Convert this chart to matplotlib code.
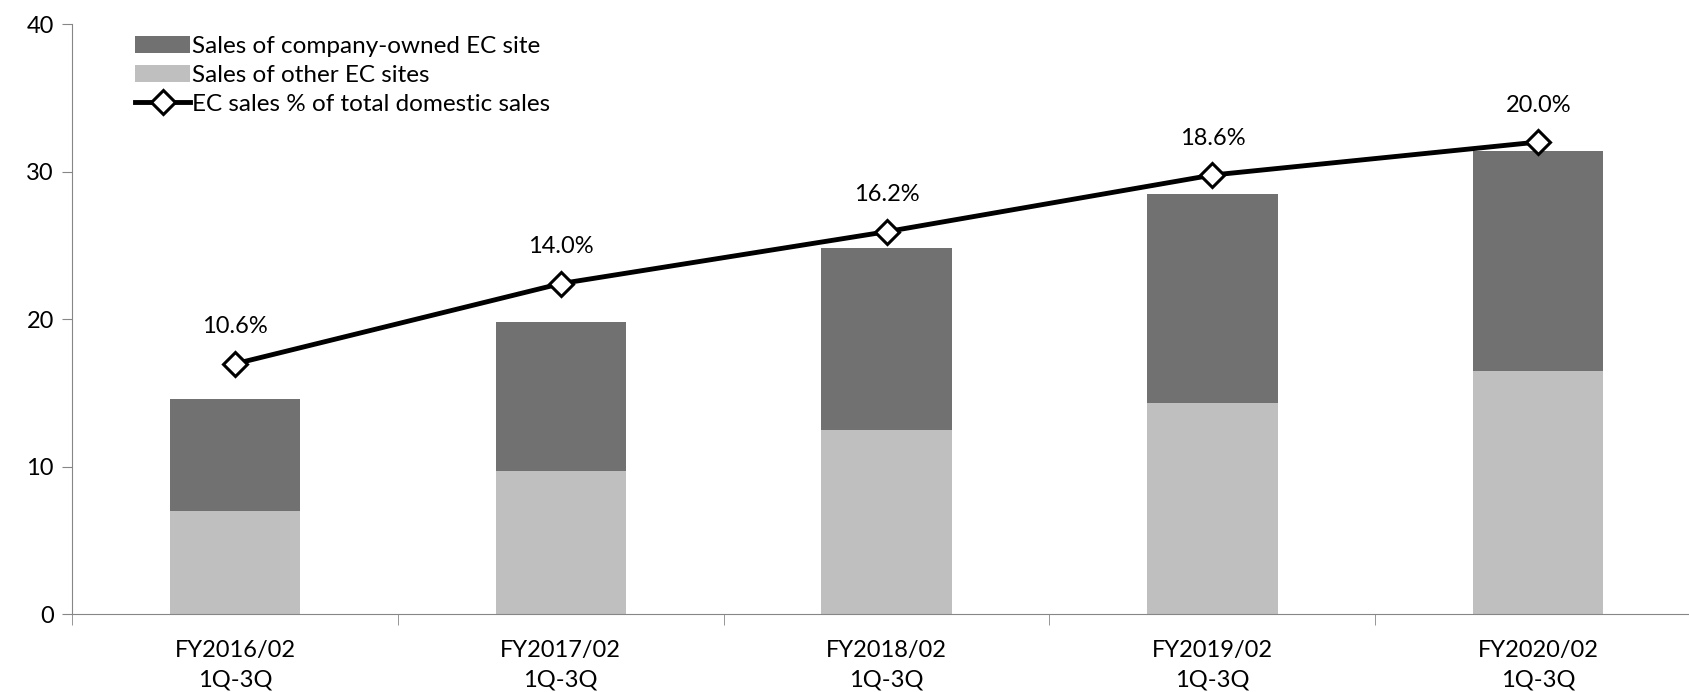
import matplotlib
matplotlib.use('Agg')
import matplotlib.pyplot as plt
import numpy as np

plt.rcParams['font.family'] = ['Lato', 'DejaVu Sans']

periods = ['FY2016/02\n1Q-3Q', 'FY2017/02\n1Q-3Q', 'FY2018/02\n1Q-3Q',
           'FY2019/02\n1Q-3Q', 'FY2020/02\n1Q-3Q']
other_sites = [7.0, 9.7, 12.5, 14.3, 16.5]
own_site = [7.6, 10.1, 12.3, 14.2, 14.9]
ec_ratio = [10.6, 14.0, 16.2, 18.6, 20.0]

x = np.arange(len(periods))
fs = 17

fig = plt.figure(figsize=(16.9, 6.92), dpi=100)
ax = fig.add_axes([0.0426, 0.1127, 0.964, 0.8526])

ax.bar(x, other_sites, width=0.4, color='#bfbfbf', label='Sales of other EC sites')
ax.bar(x, own_site, width=0.4, bottom=other_sites, color='#717171',
       label='Sales of company-owned EC site')

ax.set_xlim(-0.5, 4.5)
ax.set_ylim(0, 40)
ax.set_yticks([0, 10, 20, 30, 40])
ax.set_xticks(x)
ax.set_xticklabels(periods, linespacing=1.5)
ax.set_xticks(np.arange(-0.5, 5.0, 1.0), minor=True)
ax.tick_params(axis='x', which='major', length=0, pad=19, labelsize=fs)
ax.tick_params(axis='x', which='minor', length=8, color='#868686')
ax.tick_params(axis='y', length=7, color='#868686', labelsize=fs, pad=6)
for s in ['top', 'right']:
    ax.spines[s].set_visible(False)
for s in ['left', 'bottom']:
    ax.spines[s].set_color('#868686')

# percentage line on a hidden secondary scale
ax2 = ax.twinx()
ax2.set_ylim(0, 25)
ax2.axis('off')
ln, = ax2.plot(x, ec_ratio, color='black', lw=3.5, marker='D', ms=12,
               mfc='white', mec='black', mew=2.2,
               label='EC sales % of total domestic sales')
for xi, v in zip(x, ec_ratio):
    ax2.annotate(f'{v:.1f}%', (xi, v), xytext=(0, 19), textcoords='offset points',
                 ha='center', va='bottom', fontsize=fs)

h, l = ax.get_legend_handles_labels()
fig.legend([h[1], h[0], ln], [l[1], l[0], ln.get_label()],
           loc='upper left', bbox_to_anchor=(0.070, 0.973), frameon=False,
           fontsize=17.5, handlelength=2.25, handletextpad=0.1, labelspacing=0.33,
           borderpad=0.2)

fig.savefig('out.png', dpi=100)
